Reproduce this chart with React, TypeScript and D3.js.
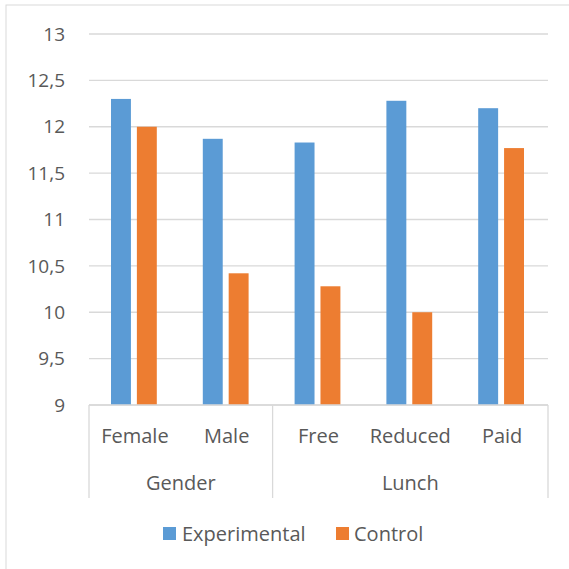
import React from "react";
import * as d3 from "d3";

// chart data
const categories = ["Female", "Male", "Free", "Reduced", "Paid"];
const groupNames = ["Gender", "Lunch"];
const groupSizes = [2, 3];
const seriesNames = ["Experimental", "Control"];
const experimental = [12.3, 11.87, 11.83, 12.28, 12.2];
const control = [12.0, 10.42, 10.28, 10.0, 11.77];
const yTicks = [9, 9.5, 10, 10.5, 11, 11.5, 12, 12.5, 13];

const colors = ["#5b9bd5", "#ed7d31"];
const textColor = "#595959";
const gridColor = "#d9d9d9";
const font = "'Open Sans', 'Noto Sans', sans-serif";

const W = 569;
const H = 569;
const left = 89;
const right = 548;
const top = 34;
const bottom = 405;
const fs = 20;

export default function App() {
  const y = d3.scaleLinear([9, 13], [bottom, top]);
  const x0 = d3.scaleBand(categories, [left, right]);
  const x1 = d3
    .scaleBand(seriesNames, [22, x0.bandwidth() - 24])
    .paddingInner(0.23);

  const locale = d3.formatLocale({
    decimal: ",",
    thousands: ".",
    grouping: [3],
    currency: ["", ""],
  });
  const fmt = locale.format(".1~f");

  const values = [experimental, control];

  // group boundaries
  let acc = 0;
  const groups = groupNames.map((name, i) => {
    const start = categories[acc];
    const end = categories[acc + groupSizes[i] - 1];
    acc += groupSizes[i];
    const x1g = x0(start)!;
    const x2g = x0(end)! + x0.bandwidth();
    return { name, x1: x1g, x2: x2g };
  });

  const legendItems = [
    { name: seriesNames[0], sx: 163, tx: 182 },
    { name: seriesNames[1], sx: 336, tx: 354 },
  ];

  return (
    <svg
      width={W}
      height={H}
      style={{ position: "absolute", left: 0, top: 0, background: "#fff" }}
      fontFamily={font}
    >
      <rect x={6} y={5} width={W + 10} height={H + 10} fill="#fff" stroke={gridColor} strokeWidth={1} />

      {/* gridlines */}
      {yTicks.map((t) => (
        <line key={t} x1={left} x2={right} y1={y(t)} y2={y(t)} stroke={gridColor} strokeWidth={1.3} />
      ))}

      {/* y labels */}
      {yTicks.map((t) => (
        <text
          key={"l" + t}
          x={65}
          y={y(t)}
          dy="0.35em"
          textAnchor="end"
          fontSize={fs - 1}
          fill={textColor}
        >
          {fmt(t)}
        </text>
      ))}

      {/* bars */}
      {categories.map((c, i) =>
        seriesNames.map((s, j) => (
          <rect
            key={c + s}
            x={x0(c)! + x1(s)!}
            y={y(values[j][i])}
            width={x1.bandwidth()}
            height={bottom - y(values[j][i])}
            fill={colors[j]}
          />
        ))
      )}

      {/* category axis */}
      <line x1={left} x2={right} y1={bottom} y2={bottom} stroke={gridColor} strokeWidth={1.3} />
      {[groups[0].x1, ...groups.map((g) => g.x2)].map((gx, i) => (
        <line key={"s" + i} x1={gx} x2={gx} y1={bottom} y2={498} stroke={gridColor} strokeWidth={1.3} />
      ))}
      {categories.map((c) => (
        <text
          key={"c" + c}
          x={x0(c)! + x0.bandwidth() / 2}
          y={443}
          textAnchor="middle"
          fontSize={fs}
          fill={textColor}
        >
          {c}
        </text>
      ))}
      {groups.map((g) => (
        <text
          key={"g" + g.name}
          x={(g.x1 + g.x2) / 2}
          y={490}
          textAnchor="middle"
          fontSize={fs}
          fill={textColor}
        >
          {g.name}
        </text>
      ))}

      {/* legend */}
      {legendItems.map((d, i) => (
        <g key={d.name}>
          <rect x={d.sx} y={527} width={13} height={13} fill={colors[i]} />
          <text x={d.tx} y={541} fontSize={fs} fill={textColor}>
            {d.name}
          </text>
        </g>
      ))}
    </svg>
  );
}
